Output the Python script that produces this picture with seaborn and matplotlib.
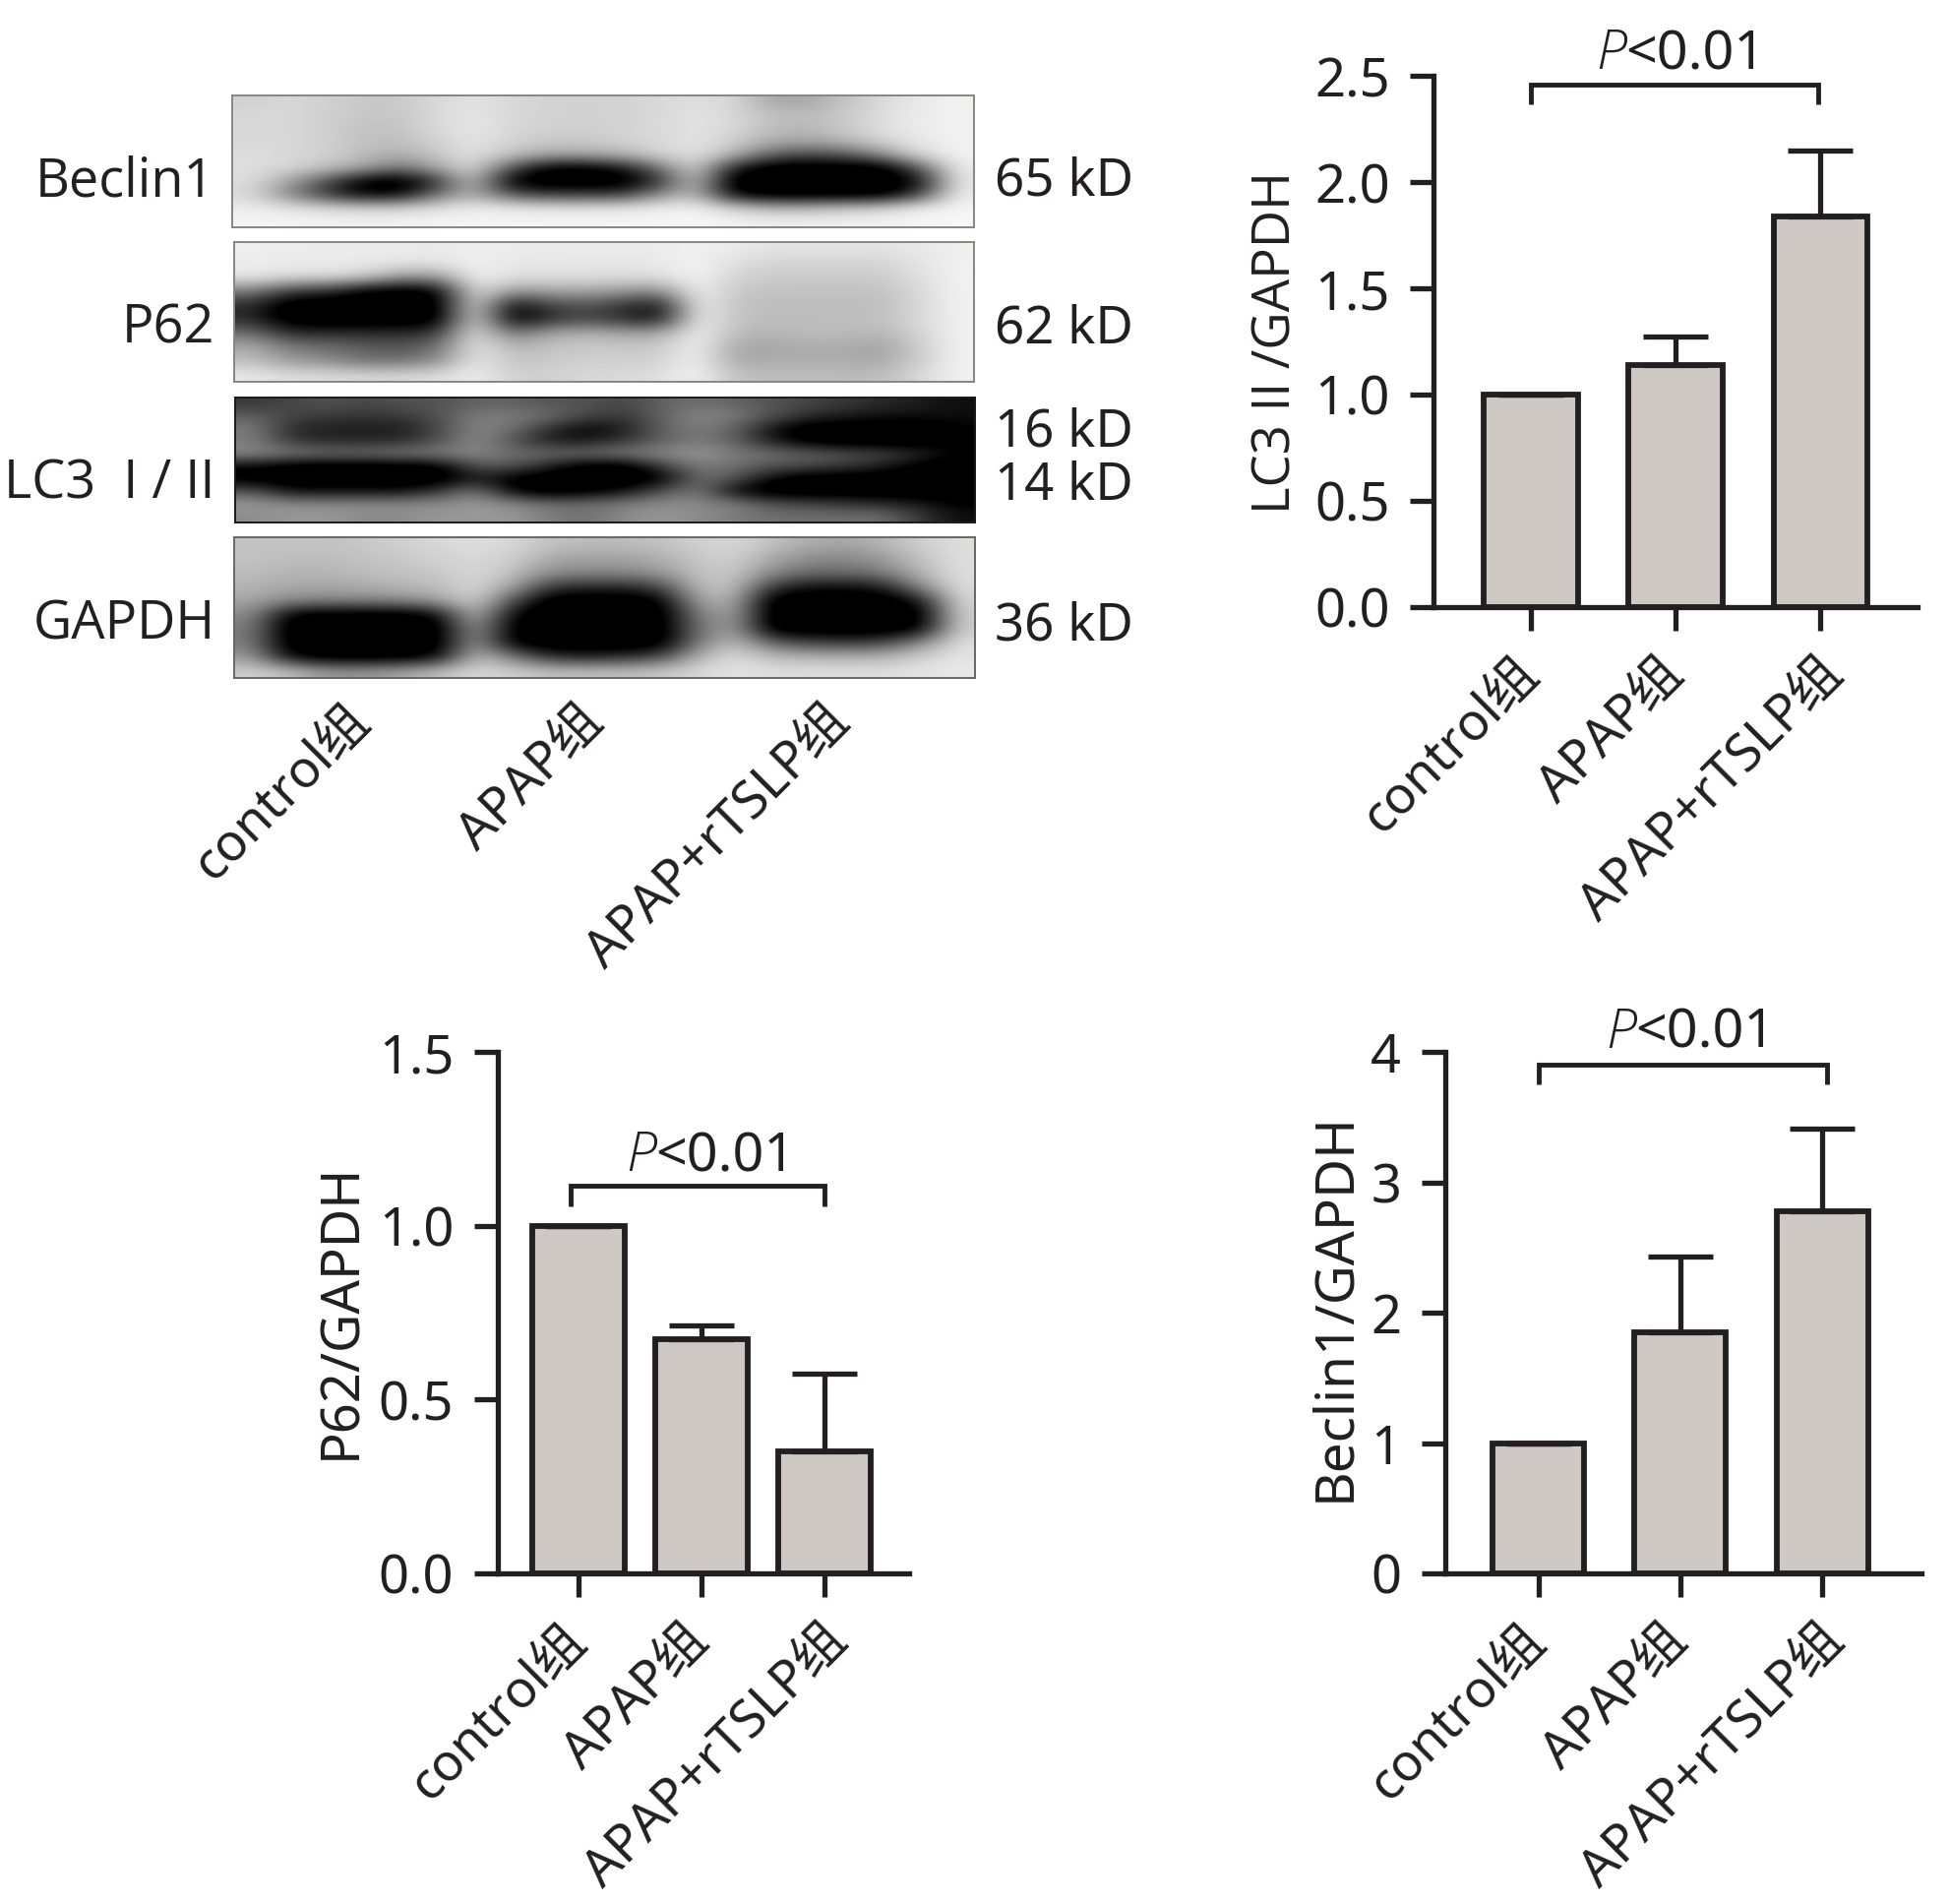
import numpy as np
import pandas as pd
import matplotlib
matplotlib.use("Agg")
import matplotlib.pyplot as plt
from matplotlib.transforms import ScaledTranslation
import seaborn as sns

sns.set_style("white")
FONT = ["Noto Sans", "Noto Sans CJK SC", "DejaVu Sans"]
plt.rcParams["font.family"] = FONT

groups = ["control组", "APAP组", "APAP+rTSLP组"]

lc3_values = [1.0, 1.14, 1.84]
lc3_errors = [0.0, 0.135, 0.31]
p62_values = [1.0, 0.675, 0.35]
p62_errors = [0.0, 0.04, 0.225]
beclin_values = [1.0, 1.85, 2.78]
beclin_errors = [0.0, 0.58, 0.63]

lc3_ticks = [0.0, 0.5, 1.0, 1.5, 2.0, 2.5]
p62_ticks = [0.0, 0.5, 1.0, 1.5]
beclin_ticks = [0, 1, 2, 3, 4]

blot_names = ["Beclin1", "P62", "LC3  I / II", "GAPDH"]
blot_sizes = ["65 kD", "62 kD", "16 kD", "14 kD", "36 kD"]

# Band darkness read from the blots (0 white, 1 black), coarse grid
beclin_blot = [
    [.15,.12,.15,.18,.18,.12,.08,.12,.14,.15,.14,.12,.10,.12,.30,.30,.20,.12,.06,.03],
    [.12,.12,.15,.18,.18,.12,.07,.12,.14,.15,.14,.12,.08,.12,.20,.22,.18,.10,.05,.03],
    [.12,.12,.15,.20,.20,.12,.07,.12,.15,.15,.14,.12,.08,.12,.22,.25,.18,.10,.05,.03],
    [.12,.12,.15,.20,.22,.14,.08,.14,.18,.18,.15,.12,.08,.15,.28,.30,.25,.15,.07,.03],
    [.10,.12,.15,.22,.28,.20,.08,.20,.30,.30,.25,.15,.08,.25,.55,.65,.60,.40,.12,.03],
    [.10,.12,.20,.30,.50,.30,.10,.60,.95,.95,.85,.50,.10,.80,1.0,1.0,1.0,1.0,.60,.05],
    [.10,.30,.60,.95,1.0,.75,.15,.95,1.0,1.0,1.0,.75,.15,1.0,1.0,1.0,1.0,1.0,.90,.06],
    [.12,.40,.70,.90,.90,.50,.25,.60,.70,.70,.70,.40,.20,.90,1.0,1.0,1.0,1.0,.70,.05],
    [.05,.08,.12,.15,.15,.10,.05,.06,.08,.08,.07,.05,.03,.15,.25,.25,.20,.15,.05,.02],
    [.02,.02,.03,.03,.03,.02,.02,.02,.02,.02,.02,.02,.01,.03,.04,.04,.03,.03,.02,.01],
]
p62_blot = [
    [.04,.05,.05,.05,.05,.06,.04,.05,.05,.05,.05,.05,.04,.05,.08,.08,.08,.08,.06,.04],
    [.05,.06,.06,.06,.07,.08,.03,.07,.07,.07,.08,.06,.02,.10,.14,.14,.14,.14,.08,.03],
    [.06,.10,.10,.15,.35,.35,.03,.10,.10,.10,.10,.10,.02,.14,.17,.17,.17,.17,.10,.03],
    [.45,.70,.75,.95,1.0,.95,.05,.35,.30,.30,.35,.40,.02,.18,.20,.20,.20,.20,.12,.03],
    [.75,1.0,1.0,1.0,1.0,1.0,.05,.90,.65,.60,.70,.85,.02,.20,.22,.22,.22,.22,.12,.03],
    [.75,1.0,1.0,1.0,1.0,1.0,.05,.95,.75,.65,.75,.85,.02,.20,.22,.22,.22,.20,.12,.03],
    [.50,.75,.75,.75,.75,.70,.05,.50,.30,.25,.30,.30,.02,.22,.25,.22,.22,.25,.14,.03],
    [.28,.45,.50,.55,.60,.50,.05,.25,.20,.18,.18,.18,.02,.30,.30,.28,.28,.32,.16,.03],
    [.22,.35,.40,.50,.50,.40,.05,.20,.17,.15,.15,.15,.02,.30,.28,.28,.28,.30,.16,.03],
    [.06,.10,.10,.12,.12,.10,.04,.15,.15,.12,.12,.10,.02,.20,.22,.22,.22,.22,.12,.03],
]
lc3_blot = [
    [.70,.65,.60,.65,.60,.60,.55,.55,.60,.60,.65,.55,.50,.55,.60,.65,.70,.75,.80,.85],
    [.55,.65,.70,.70,.70,.60,.45,.45,.50,.65,.70,.55,.40,.45,.60,.75,.80,.85,.85,.85],
    [.45,.75,.80,.80,.80,.65,.40,.50,.75,.90,.80,.55,.45,.55,.85,1.0,1.0,1.0,1.0,.90],
    [.45,.70,.75,.75,.75,.60,.40,.60,.80,.80,.70,.55,.45,.55,.80,.95,1.0,1.0,1.0,.90],
    [.40,.45,.50,.50,.45,.45,.40,.50,.50,.50,.45,.40,.35,.45,.50,.55,.60,.65,.75,.90],
    [.90,1.0,1.0,1.0,1.0,.95,.60,.60,.80,1.0,1.0,.70,.45,.50,.60,.65,.70,.80,.95,1.0],
    [.95,1.0,1.0,1.0,1.0,1.0,.80,.95,1.0,1.0,1.0,.95,.50,.60,.90,1.0,1.0,1.0,1.0,1.0],
    [.60,.85,.85,.85,.85,.70,.45,.90,1.0,.95,.85,.60,.45,.90,1.0,1.0,1.0,1.0,1.0,1.0],
    [.35,.40,.40,.40,.40,.40,.35,.40,.50,.50,.45,.40,.40,.45,.60,.65,.70,.75,.80,.90],
    [.40,.35,.35,.40,.40,.35,.35,.35,.45,.50,.40,.35,.40,.45,.50,.50,.50,.50,.70,.85],
]
gapdh_blot = [
    [.20,.20,.20,.18,.15,.12,.10,.12,.20,.22,.22,.20,.15,.12,.20,.28,.30,.25,.15,.10],
    [.20,.22,.22,.20,.18,.15,.12,.15,.30,.32,.32,.28,.18,.15,.30,.40,.42,.35,.20,.10],
    [.22,.25,.25,.22,.20,.18,.12,.20,.38,.40,.40,.35,.20,.17,.40,.50,.50,.45,.25,.10],
    [.25,.30,.30,.28,.25,.22,.12,.30,.70,.75,.75,.65,.22,.20,.70,.85,.85,.80,.40,.10],
    [.30,.40,.42,.42,.40,.33,.13,.60,1.0,1.0,1.0,.95,.30,.25,1.0,1.0,1.0,1.0,.85,.12],
    [.40,.95,1.0,1.0,1.0,.90,.18,.90,1.0,1.0,1.0,1.0,.45,.30,1.0,1.0,1.0,1.0,1.0,.15],
    [.45,1.0,1.0,1.0,1.0,1.0,.30,.95,1.0,1.0,1.0,1.0,.50,.30,1.0,1.0,1.0,1.0,.95,.15],
    [.45,1.0,1.0,1.0,1.0,1.0,.30,.95,1.0,1.0,1.0,1.0,.45,.20,.55,.65,.70,.65,.40,.10],
    [.35,.90,1.0,1.0,1.0,.90,.20,.45,.75,.80,.75,.65,.25,.10,.22,.25,.25,.25,.15,.08],
    [.15,.20,.35,.35,.30,.20,.12,.15,.20,.20,.20,.18,.12,.08,.10,.10,.10,.10,.08,.06],
]

W, H = 1982, 1935
SCALE = 1982 / 1568
INK = "#231f20"
BAR = "#cec8c5"
LW = 3.8
TXT = 39
PLAIN_I = ["Open Sans", "DejaVu Sans"]


def rect(x0, y0, x1, y1):
    """Axes rectangle from reference-view pixel corners."""
    return [x0 * SCALE / W, 1 - y1 * SCALE / H, (x1 - x0) * SCALE / W, (y1 - y0) * SCALE / H]


def put(x, y, s, **kw):
    kw.setdefault("color", INK)
    return fig.text(x * SCALE / W, 1 - y * SCALE / H, s, **kw)


fig = plt.figure(figsize=(W / 100, H / 100), dpi=100, facecolor="white")


def bar_panel(box, values, errors, ticks, ticklabels, ymax, width, xlim, bracket, ylabel, ylabel_xy, ptext, ysize, yfam=FONT):
    ax = fig.add_axes(rect(*box))
    df = pd.DataFrame({"group": groups, "value": values})
    sns.barplot(data=df, x="group", y="value", color=BAR, saturation=1, width=width,
                edgecolor=INK, linewidth=LW + 0.4, errorbar=None, ax=ax)
    ax.errorbar(range(3), values, yerr=[[0, 0, 0], errors], fmt="none", ecolor=INK,
                elinewidth=LW, capsize=24, capthick=LW, zorder=1)
    ax.set_xlim(*xlim)
    ax.set_ylim(0, ymax)
    ax.set_yticks(ticks)
    ax.set_yticklabels(ticklabels, fontsize=TXT, color=INK)
    ax.set_xticks(range(3))
    ax.set_xticklabels(groups, fontsize=38, color=INK, rotation=45, ha="right",
                       va="center", rotation_mode="anchor")
    ax.tick_params(axis="both", which="major", direction="out", length=17, width=LW,
                   color=INK, left=True, bottom=True)
    ax.tick_params(axis="x", pad=27)
    ax.tick_params(axis="y", pad=15)
    long_label = ax.get_xticklabels()[2]
    long_label.set_transform(long_label.get_transform() + ScaledTranslation(11 / 72, 0, fig.dpi_scale_trans))
    ax.set_xlabel("")
    ax.set_ylabel("")
    for name in ("top", "right"):
        ax.spines[name].set_visible(False)
    for name in ("left", "bottom"):
        ax.spines[name].set_color(INK)
        ax.spines[name].set_linewidth(LW)
    ax.patch.set_alpha(0)
    x0, x1, ytop, ydrop = bracket
    ax.plot([x0, x0, x1, x1], [ydrop, ytop, ytop, ydrop], color=INK, lw=LW - 0.3,
            clip_on=False, solid_joinstyle="miter", solid_capstyle="butt")
    put(ylabel_xy[0], ylabel_xy[1], ylabel, rotation=90, ha="center", va="center",
        fontsize=ysize, family=yfam)
    pm, py = ptext
    put(pm, py, "P", family=["Open Sans", "DejaVu Sans"], style="italic", fontsize=TXT + 1,
        fontweight="light", ha="right", va="center")
    put(pm - 1, py, "<0.01", fontsize=TXT + 1, ha="left", va="center")
    return ax


bar_panel((1153, 61, 1542, 488), lc3_values, lc3_errors, lc3_ticks,
          [f"{t:.1f}" for t in lc3_ticks], 2.5, 0.65, (-0.67, 2.67),
          (0.0, 1.98, 2.46, 2.365), "LC3 II /GAPDH", (1027, 275), (1308, 44), 38, PLAIN_I)
bar_panel((400, 846, 731, 1265), p62_values, p62_errors, p62_ticks,
          [f"{t:.1f}" for t in p62_ticks], 1.5, 0.747, (-0.657, 2.687),
          (-0.06, 2.0, 1.117, 1.056), "P62/GAPDH", (274, 1054), (528, 930), 39)
bar_panel((1162, 846, 1545, 1265), beclin_values, beclin_errors, beclin_ticks,
          [str(t) for t in beclin_ticks], 4, 0.645, (-0.658, 2.70),
          (0.0, 2.035, 3.905, 3.75), "Beclin1/GAPDH", (1073, 1051), (1316, 831), 39.5)

# Blot strips
blots = [beclin_blot, p62_blot, lc3_blot, gapdh_blot]
boxes = [(187, 77, 783, 183), (188, 195, 783, 307), (189, 320, 784, 420), (188, 432, 784, 545)]
edge = ["#8a8583", "#8a8583", "#1a1a1a", "#6a6664"]
for blot, box, ec in zip(blots, boxes, edge):
    ax = fig.add_axes(rect(*box))
    ax.imshow(np.array(blot), cmap="gray_r", vmin=-0.02, vmax=0.9, aspect="auto",
              interpolation="bicubic")
    ax.set_xticks([])
    ax.set_yticks([])
    for s in ax.spines.values():
        s.set_color(ec)
        s.set_linewidth(1.4)

for name, y in zip(blot_names, [146, 264, 389, 502]):
    put(173, y, name, ha="right", va="center", fontsize=39, family=PLAIN_I)
for size, y in zip(blot_sizes, [146, 265, 348, 391, 504]):
    put(800, y, size, ha="left", va="center", fontsize=38)

for label, (x, y) in zip(groups, [(291, 574), (479, 574), (677, 574)]):
    put(x, y, label, rotation=45, ha="right", va="center", rotation_mode="anchor", fontsize=38)

fig.savefig("out.png", dpi=100, facecolor="white")
